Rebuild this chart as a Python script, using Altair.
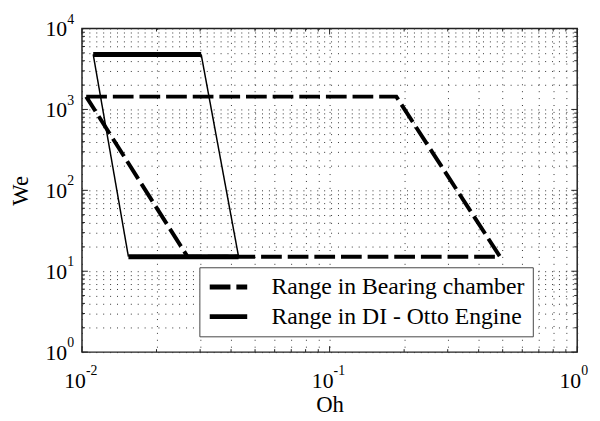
import altair as alt
import pandas as pd

# ---- data ----
series_names = ["Range in Bearing chamber", "Range in DI - Otto Engine"]

bearing_oh = [0.0104, 0.186, 0.488, 0.0267, 0.0104]
bearing_we = [1440, 1440, 15.1, 15.1, 1440]

# DI - Otto engine quadrilateral: thick top/bottom edges, thin sides
otto_thick_oh_start = [0.0111, 0.0154]
otto_thick_oh_end = [0.0303, 0.0429]
otto_thick_we = [4780, 15.1]
otto_thin_oh_start = [0.0111, 0.0303]
otto_thin_oh_end = [0.0154, 0.0429]
otto_thin_we_start = [4780, 4780]
otto_thin_we_end = [15.1, 15.1]

x_label_exps = [-2, -1, 0]
y_label_exps = [0, 1, 2, 3, 4]
minor_mult = [2, 3, 4, 5, 6, 7, 8, 9]

W, H = 502, 328
FONT = "Liberation Serif, Times New Roman, Times, DejaVu Serif, serif"

x_major = [10.0 ** e for e in x_label_exps]
y_major = [10.0 ** e for e in y_label_exps]
x_minor = [m * 10.0 ** e for e in x_label_exps[:-1] for m in minor_mult]
y_minor = [m * 10.0 ** e for e in y_label_exps[:-1] for m in minor_mult]

xscale = alt.Scale(type="log", domain=[0.01, 1], nice=False)
yscale = alt.Scale(type="log", domain=[1, 10000], nice=False)
dash_scale = alt.Scale(domain=series_names, range=[[21, 6], [1, 0]])

xaxis = alt.Axis(values=sorted(x_major + x_minor), labels=False, ticks=False,
                 domain=False, grid=True, title="Oh", titlePadding=42)
yaxis = alt.Axis(values=sorted(y_major + y_minor), labels=False, ticks=False,
                 domain=False, grid=True, title="We", titlePadding=50)

def X(field):
    return alt.X(field, type="quantitative", scale=xscale, axis=xaxis)

def Y(field):
    return alt.Y(field, type="quantitative", scale=yscale, axis=yaxis)

bearing_df = pd.DataFrame({
    "Oh": bearing_oh, "We": bearing_we,
    "order": list(range(len(bearing_oh))),
    "series": series_names[0],
})
thick_df = pd.DataFrame({
    "Oh": otto_thick_oh_start, "Oh2": otto_thick_oh_end,
    "We": otto_thick_we, "We2": otto_thick_we, "series": series_names[1],
})
thin_df = pd.DataFrame({
    "Oh": otto_thin_oh_start, "Oh2": otto_thin_oh_end,
    "We": otto_thin_we_start, "We2": otto_thin_we_end, "series": series_names[1],
})

dash_enc = alt.StrokeDash("series:N", scale=dash_scale,
                          legend=alt.Legend(title=None, orient="none",
                                            legendX=119, legendY=242))

bearing = alt.Chart(bearing_df).mark_line(
    color="black", strokeWidth=4, strokeCap="butt", strokeJoin="miter"
).encode(x=X("Oh"), y=Y("We"), order="order:Q", strokeDash=dash_enc)

thick = alt.Chart(thick_df).mark_rule(color="black", strokeWidth=5, strokeCap="butt").encode(
    x=X("Oh"), x2="Oh2:Q", y=Y("We"), y2="We2:Q", strokeDash=dash_enc)
thin = alt.Chart(thin_df).mark_rule(color="black", strokeWidth=1.5).encode(
    x=X("Oh"), x2="Oh2:Q", y=Y("We"), y2="We2:Q", strokeDash=dash_enc)

# inside ticks on all four sides
def xticks(vals, length):
    df = pd.DataFrame({"Oh": vals})
    base = alt.Chart(df).mark_rule(color="#222", strokeWidth=1)
    bot = base.encode(x=X("Oh"), y=alt.value(H), y2=alt.value(H - length))
    top = base.encode(x=X("Oh"), y=alt.value(0), y2=alt.value(length))
    return [bot, top]

def yticks(vals, length):
    df = pd.DataFrame({"We": vals})
    base = alt.Chart(df).mark_rule(color="#222", strokeWidth=1)
    left = base.encode(y=Y("We"), x=alt.value(0), x2=alt.value(length))
    right = base.encode(y=Y("We"), x=alt.value(W), x2=alt.value(W - length))
    return [left, right]

tick_layers = xticks(x_major, 6) + xticks(x_minor, 3) + yticks(y_major, 6) + yticks(y_minor, 3)

# tick labels 10^n with raised exponent
xl_df = pd.DataFrame({"Oh": x_major, "base": ["10"] * len(x_major),
                      "exp": [str(e) for e in x_label_exps]})
yl_df = pd.DataFrame({"We": y_major, "base": ["10"] * len(y_major),
                      "exp": [str(e) for e in y_label_exps]})

xl_base = alt.Chart(xl_df).mark_text(font=FONT, fontSize=22, align="right", baseline="alphabetic",
                                     dx=4, color="black").encode(
    x=X("Oh"), y=alt.value(H + 36), text="base:N")
xl_exp = alt.Chart(xl_df).mark_text(font=FONT, fontSize=14, align="left", baseline="alphabetic",
                                    dx=4, color="black").encode(
    x=X("Oh"), y=alt.value(H + 23), text="exp:N")
yl_base = alt.Chart(yl_df).mark_text(font=FONT, fontSize=22, align="right", baseline="alphabetic",
                                     dy=7.5, color="black").encode(
    y=Y("We"), x=alt.value(-15), text="base:N")
yl_exp = alt.Chart(yl_df).mark_text(font=FONT, fontSize=14, align="left", baseline="alphabetic",
                                    dy=-5, color="black").encode(
    y=Y("We"), x=alt.value(-15), text="exp:N")

chart = alt.layer(
    bearing, thick, thin, *tick_layers, xl_base, xl_exp, yl_base, yl_exp
).properties(
    width=W, height=H,
    autosize=alt.AutoSizeParams(type="none"),
    padding={"left": 75, "top": 18, "right": 15, "bottom": 67},
    background="white",
).configure_view(
    stroke="#222", strokeWidth=1.5
).configure_axis(
    gridDash=[1, 6], gridColor="#333", gridWidth=1, gridOpacity=1,
    titleFont=FONT, titleFontSize=23, titleFontWeight="normal", titleColor="black",
).configure_legend(
    symbolType="stroke", symbolSize=1444, symbolStrokeWidth=5, symbolStrokeColor="black",
    labelFont=FONT, labelFontSize=24, labelColor="black", labelOffset=22, labelLimit=400,
    strokeColor="#444", fillColor="white", padding=8, rowPadding=6, clipHeight=24,
    cornerRadius=0,
)

chart.save("out.html", embed_options={"renderer": "svg", "actions": False})
